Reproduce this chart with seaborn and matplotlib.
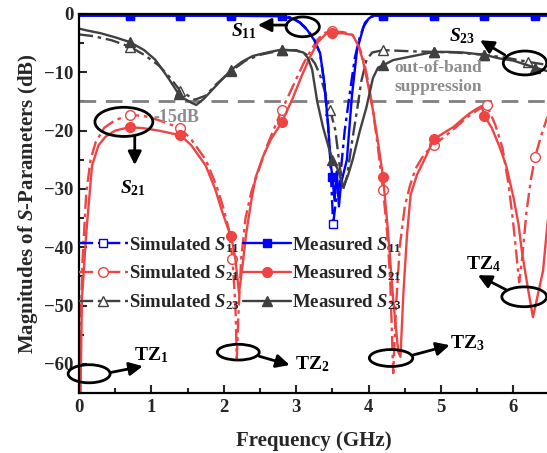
import numpy as np
import pandas as pd
import seaborn as sns
import matplotlib.pyplot as plt
from matplotlib.patches import Ellipse
from matplotlib.ticker import MultipleLocator

# S-parameter curves (frequency in GHz, magnitude in dB)
f_s11_sim = [0.0, 0.7, 1.4, 2.1, 2.8, 2.95, 3.05, 3.15, 3.25, 3.33, 3.39, 3.44, 3.47, 3.51,
             3.55, 3.6, 3.67, 3.74, 3.81, 3.88, 3.95, 4.02, 4.2, 4.9, 5.6, 6.3, 6.5]
db_s11_sim = [-0.1, -0.1, -0.1, -0.1, -0.2, -0.7, -1.4, -2.6, -4.4, -6.8, -12, -19, -25, -36,
              -32, -29, -20, -13.6, -7.5, -3.9, -1.5, -0.5, -0.1, -0.1, -0.1, -0.1, -0.1]

f_s11_meas = [0.0, 0.7, 1.4, 2.1, 2.8, 2.95, 3.05, 3.15, 3.25, 3.33, 3.39, 3.44, 3.48, 3.5, 3.53,
              3.56, 3.59, 3.62, 3.66, 3.7, 3.77, 3.84, 3.93, 4.0, 4.06, 4.2, 4.9, 5.6, 6.3, 6.5]
db_s11_meas = [-0.3, -0.3, -0.3, -0.3, -0.4, -0.8, -1.5, -2.7, -4.5, -6.7, -12, -19, -26, -28, -32,
               -27, -33, -29, -27, -25, -14, -6.2, -2.2, -0.8, -0.3, -0.3, -0.3, -0.3, -0.3, -0.3]

f_s21_sim = [0.0, 0.02, 0.05, 0.1, 0.16, 0.23, 0.35, 0.5, 0.7, 0.9,
             1.1, 1.4, 1.55, 1.75, 1.9, 2.0, 2.07, 2.12, 2.16, 2.18,
             2.2, 2.24, 2.3, 2.38, 2.49, 2.6, 2.8, 2.95, 3.1, 3.2,
             3.3, 3.4, 3.5, 3.65, 3.78, 3.86, 3.93, 4.0, 4.06, 4.13,
             4.2, 4.26, 4.3, 4.34, 4.38, 4.43, 4.5, 4.57, 4.65, 4.77,
             4.9, 5.05, 5.2, 5.35, 5.5, 5.63, 5.75, 5.85, 5.93, 5.99,
             6.04, 6.08, 6.12, 6.18, 6.24, 6.3, 6.38, 6.46, 6.5]
db_s21_sim = [-66, -55, -42, -30.7, -25, -22, -19.5, -18.2, -17.3, -17.5,
              -18.2, -19.6, -21.5, -25, -29.5, -33.5, -37, -42, -50, -59,
              -52, -42, -35, -30.5, -26.5, -22.5, -16.5, -12.5, -8.5, -6.3,
              -4.3, -3.2, -3.0, -3.1, -3.6, -5.3, -7.8, -12, -16.5, -23,
              -30.2, -38, -46, -61.6, -50, -40, -33, -29.5, -26.5, -24,
              -22.5, -21, -19.5, -17.8, -16.5, -15.6, -19, -23, -29, -35,
              -41, -46, -42, -34, -28.5, -24.5, -21, -18, -17]

f_s21_meas = [0.02, 0.04, 0.1, 0.18, 0.27, 0.37, 0.5, 0.7, 0.9, 1.1,
              1.4, 1.55, 1.75, 1.88, 1.97, 2.05, 2.1, 2.16, 2.21, 2.26,
              2.31, 2.38, 2.44, 2.54, 2.65, 2.8, 2.95, 3.08, 3.19, 3.3,
              3.42, 3.5, 3.65, 3.78, 3.86, 3.92, 3.99, 4.06, 4.13, 4.2,
              4.27, 4.34, 4.41, 4.44, 4.48, 4.53, 4.58, 4.67, 4.77, 4.9,
              5.05, 5.17, 5.3, 5.4, 5.5, 5.56, 5.6, 5.7, 5.81, 5.9,
              6.0, 6.07, 6.12, 6.2, 6.27, 6.34, 6.41, 6.47, 6.5]
db_s21_meas = [-66, -49, -37.6, -26, -22.5, -21, -20, -19.4, -19.6, -20,
               -20.8, -22.5, -26, -30, -33.6, -36.5, -38, -42, -47.9, -43,
               -37.6, -32, -28, -24.5, -21.5, -18.6, -14.5, -10.5, -7.4, -4.8,
               -3.3, -3.3, -3.3, -3.6, -5.5, -7.9, -12, -16.5, -22, -28,
               -37.6, -49, -58, -58.8, -48, -38, -31, -27.5, -25, -21.5,
               -20.3, -19.4, -18, -17, -16.2, -15.8, -17.5, -19.5, -22.8, -26,
               -31.4, -36, -41, -47, -52, -48, -44, -36, -33]

f_s23_sim = [0.0, 0.2, 0.45, 0.7, 0.9, 1.1, 1.25, 1.4, 1.6, 1.75,
             1.9, 2.1, 2.3, 2.5, 2.8, 3.0, 3.12, 3.2, 3.26, 3.33,
             3.4, 3.47, 3.54, 3.6, 3.65, 3.7, 3.77, 3.84, 3.9, 3.97,
             4.05, 4.2, 4.4, 4.6, 4.9, 5.2, 5.6, 5.9, 6.2, 6.5]
db_s23_sim = [-3.5, -3.8, -4.5, -5.6, -7.0, -8.8, -10.8, -13.2, -14.7, -14.0,
              -12, -9.8, -8, -7, -6.2, -6.2, -6.8, -7.5, -8.5, -10.5,
              -13.5, -16.5, -19.9, -26, -30, -28, -22, -16.5, -11.5, -7.9,
              -6.6, -6.2, -6.3, -6.4, -6.5, -6.6, -7.0, -7.5, -8.2, -8.8]

f_s23_meas = [0.0, 0.1, 0.3, 0.5, 0.7, 0.9, 1.05, 1.15, 1.25, 1.38,
              1.45, 1.55, 1.62, 1.72, 1.84, 1.97, 2.1, 2.25, 2.4, 2.6,
              2.8, 3.0, 3.1, 3.16, 3.22, 3.29, 3.37, 3.44, 3.5, 3.57,
              3.65, 3.72, 3.78, 3.88, 3.97, 4.06, 4.13, 4.2, 4.34, 4.5,
              4.7, 4.9, 5.1, 5.3, 5.45, 5.6, 5.8, 6.0, 6.15, 6.3, 6.5]
db_s23_meas = [-2.5, -2.8, -3.3, -4.0, -4.8, -6.2, -7.8, -9.5, -11.3, -13.8,
               -14.5, -15.2, -15.6, -14.6, -13, -11.3, -9.6, -8.2, -7.2, -6.6,
               -6.1, -6.3, -6.6, -7.5, -9.5, -15, -19.4, -22.5, -25, -26.5,
               -29.7, -27.5, -25, -20, -16, -11, -9.2, -8.8, -7.9, -7.5,
               -7.0, -6.5, -6.5, -6.6, -6.8, -7.0, -7.6, -8.0, -8.6, -9.2, -9.9]

marker_freqs = [0.7, 1.4, 2.1, 2.8, 3.5, 4.2, 4.9, 5.6, 6.3]
suppression_level = -15

blue = "#0000FF"
red = "#EE4444"
gray = "#404040"
dashdot = (0, (6, 2, 1.5, 2))

sns.set_theme(style="ticks")
plt.rcParams["font.family"] = ["Liberation Serif", "DejaVu Serif"]
plt.rcParams["font.weight"] = "bold"
plt.rcParams["mathtext.fontset"] = "custom"
plt.rcParams["mathtext.it"] = "Liberation Serif:italic:bold"
plt.rcParams["mathtext.rm"] = "Liberation Serif:bold"
plt.rcParams["mathtext.bf"] = "Liberation Serif:bold"
plt.rcParams["xtick.direction"] = "in"
plt.rcParams["ytick.direction"] = "in"


def marker_idx(freqs, fmax=6.5):
    f = np.array(freqs)
    return sorted(set(int(np.argmin(np.abs(f - m))) for m in marker_freqs if m <= fmax))


fig = plt.figure(figsize=(5.47, 4.53), dpi=100)
ax = fig.add_axes([79 / 547, 60 / 453, 470.6 / 547, 379 / 453])

series = [
    (f_s11_sim, db_s11_sim, blue, dashdot, "s", "white", 6, 6.5, r"Simulated $S_{11}$"),
    (f_s21_sim, db_s21_sim, red, dashdot, "o", "white", 7, 6.5, r"Simulated $S_{21}$"),
    (f_s23_sim, db_s23_sim, gray, dashdot, "^", "white", 7, 6.5, r"Simulated $S_{23}$"),
    (f_s11_meas, db_s11_meas, blue, "-", "s", blue, 6, 6.5, r"Measured $S_{11}$"),
    (f_s21_meas, db_s21_meas, red, "-", "o", red, 7, 6.0, r"Measured $S_{21}$"),
    (f_s23_meas, db_s23_meas, gray, "-", "^", gray, 7, 6.5, r"Measured $S_{23}$"),
]
for f, db, c, ls, mk, fc, ms, fmax, lab in series:
    sns.lineplot(x=f, y=db, ax=ax, color=c, ls=ls, lw=1.7, marker=mk, ms=ms,
                 markerfacecolor=fc, markeredgecolor=c, markeredgewidth=1.0,
                 markevery=marker_idx(f, fmax), estimator=None, sort=False, label=lab,
                 legend=False)

ax.axhline(suppression_level, color="#808080", lw=2, ls=(0, (6, 3.5)), zorder=1)

ax.set_xlim(0, 6.5)
ax.set_ylim(-65, 0)
ax.xaxis.set_major_locator(MultipleLocator(1))
ax.xaxis.set_minor_locator(MultipleLocator(0.5))
ax.yaxis.set_major_locator(MultipleLocator(10))
ax.yaxis.set_minor_locator(MultipleLocator(5))
ax.tick_params(which="major", length=6, width=1.5, labelsize=13.5, pad=4)
ax.tick_params(which="minor", length=3.5, width=1.5)
for sp in ax.spines.values():
    sp.set_linewidth(1.6)
    sp.set_color("black")

ax.set_xlabel("Frequency (GHz)", fontsize=15, fontweight="bold", labelpad=11)
ax.set_ylabel(r"Magnitudes of $S$-Parameters (dB)", fontsize=15, fontweight="bold", labelpad=3)

ax.legend(ncol=2, loc="upper left", bbox_to_anchor=(0.0, 0.417), frameon=False,
          fontsize=13.5, handlelength=2.6, handletextpad=0.05, columnspacing=0.15,
          labelspacing=0.48, borderaxespad=0, borderpad=0)

# ellipses, arrows and notes
ellipses = [(3.09, -2.2, 0.46, 3.4), (0.62, -18.5, 0.8, 5.0), (6.16, -8.4, 0.6, 4.1),
            (0.14, -61.7, 0.58, 3.1), (2.2, -58.0, 0.58, 2.7), (4.31, -59.0, 0.6, 2.9),
            (6.15, -48.5, 0.62, 3.4)]
for cx, cy, w, h in ellipses:
    ax.add_patch(Ellipse((cx, cy), w, h, fill=False, ec="black", lw=2, clip_on=False, zorder=6))

arrows = [((2.87, -1.9), (2.47, -1.9)), ((0.77, -21.0), (0.77, -25.9)),
          ((5.88, -7.0), (5.54, -4.5)), ((0.43, -61.5), (0.88, -60.4)),
          ((2.49, -58.7), (2.91, -60.2)), ((4.61, -58.5), (5.12, -56.8)),
          ((5.9, -47.3), (5.51, -44.8))]
for start, tip in arrows:
    ax.annotate("", xy=tip, xytext=start,
                arrowprops=dict(arrowstyle="-|>", color="black", lw=2, mutation_scale=20,
                                shrinkA=0, shrinkB=0), zorder=6, annotation_clip=False)

notes = [(2.28, -2.9, r"$S_{11}$"), (0.75, -29.8, r"$S_{21}$"), (5.29, -3.8, r"$S_{23}$"),
         (1.0, -58.5, r"TZ$_1$"), (3.22, -60.0, r"TZ$_2$"), (5.36, -56.4, r"TZ$_3$"),
         (5.58, -42.9, r"TZ$_4$")]
for x, y, s in notes:
    ax.text(x, y, s, fontsize=14, ha="center", va="center", color="black")

ax.text(1.35, -17.7, "-15dB", fontsize=13, color="#8c8c8c", ha="center", va="center")
ax.text(4.36, -10.9, "out-of-band\nsuppression", fontsize=12.5, color="#8c8c8c",
        ha="left", va="center", linespacing=1.2)

fig.savefig("out.png", dpi=100)
